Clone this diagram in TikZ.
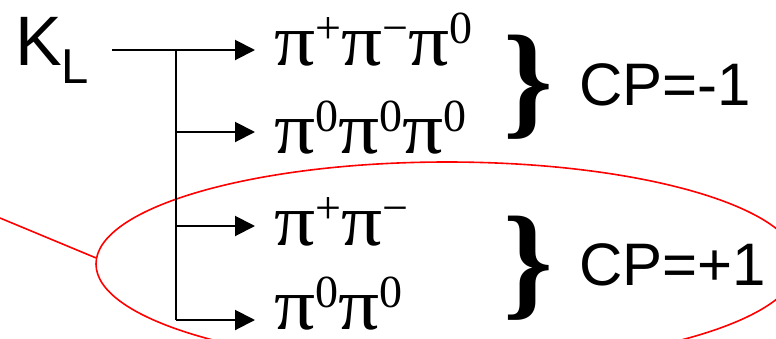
\documentclass[tikz,border=0pt]{standalone}
\usepackage{fontspec}
\setmainfont{Liberation Serif}
\newfontfamily\sansf{Liberation Sans}
\usetikzlibrary{shapes.geometric,arrows.meta}
\newcommand\pisup[1]{\raisebox{22pt}{\fontsize{46}{46}\selectfont #1}}
\newcommand\pig{\scalebox{1.1}[1]{π}}
\begin{document}
\begin{tikzpicture}[x=1pt,y=-1pt,line width=2pt,
  arr/.style={-{Triangle[length=20pt,width=20pt]}},
  ptext/.style={anchor=base west,inner xsep=18pt,inner ysep=0pt,font=\fontsize{74}{74}\selectfont},
  bracenode/.style={inner sep=0pt,font=\bfseries\fontsize{126}{126}\selectfont},
  cptext/.style={anchor=base west,inner sep=0pt,font=\sansf\fontsize{60}{60}\selectfont},
  redline/.style={draw=red,line width=1.6pt}]
\useasboundingbox (0,0) rectangle (776,338);
\clip (0,0) rectangle (776,338);
% red ellipse and line
\node[ellipse,redline,minimum width=702pt,minimum height=204pt,inner sep=0pt] (ell) at (447,264) {};
\coordinate (rl) at (0,218);
\draw[redline] (rl) -- (ell.179);
% K_L
\node[anchor=base west,inner sep=0pt,font=\sansf\fontsize{70}{70}\selectfont] (K) at (14,65) {K\raisebox{-18pt}{\fontsize{49}{49}\selectfont L}};
% decay products
\node[ptext] (p1) at (255,65) {\pig\pisup{+}\pig\pisup{−}\pig\pisup{0}};
\node[ptext] (p2) at (255,153) {\pig\pisup{0}\pig\pisup{0}\pig\pisup{0}};
\node[ptext] (p3) at (255,245) {\pig\pisup{+}\pig\pisup{−}};
\node[ptext] (p4) at (255,329) {\pig\pisup{0}\pig\pisup{0}};
% connectors
\coordinate (kout) at (112,50);
\coordinate (j1) at (176,50);
\coordinate (j2) at (176,132);
\coordinate (j3) at (176,226);
\coordinate (j4) at (176,320);
\draw[arr] (kout) -- (p1.west |- kout);
\draw (j1) -- (j4);
\draw[arr] (j2) -- (p2.west |- j2);
\draw[arr] (j3) -- (p3.west |- j3);
\draw[arr] (j4) -- (p4.west |- j4);
% braces
\node[bracenode] (b1) at (528,87) {\}};
\node[bracenode] (b2) at (528,268) {\}};
% CP labels
\node[cptext] (cp1) at (578,105) {CP=-1};
\node[cptext] (cp2) at (578,285) {CP=+1};
\end{tikzpicture}
\end{document}
